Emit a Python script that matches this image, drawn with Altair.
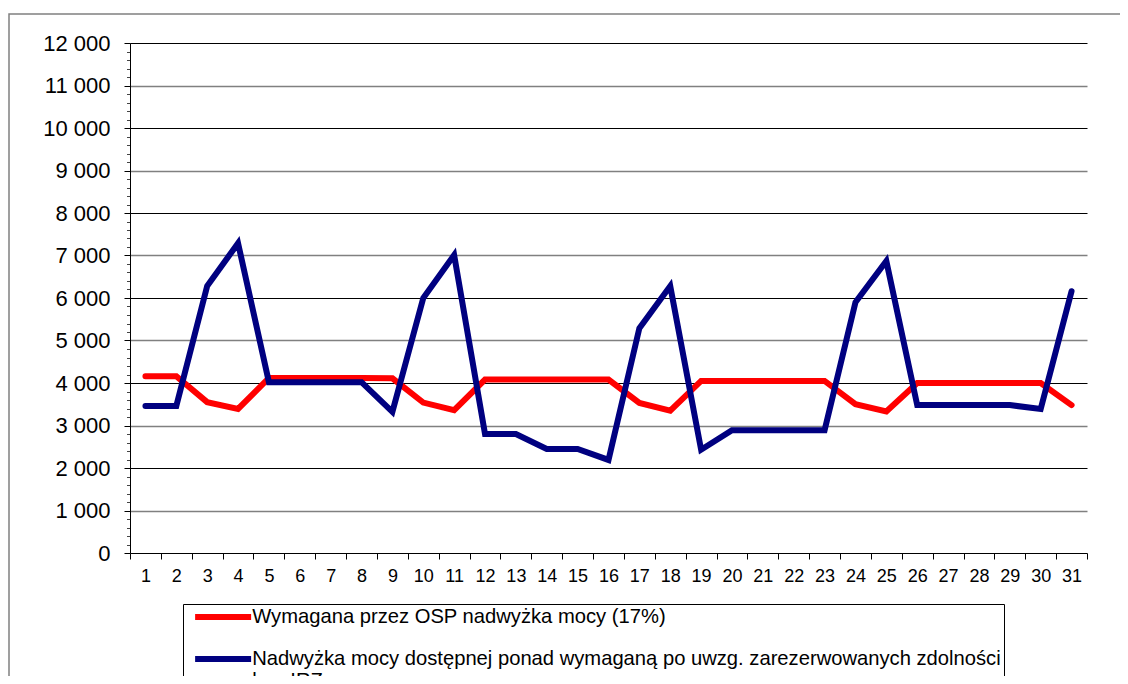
import json
import altair as alt
import pandas as pd

days = list(range(1, 32))
required = [4160, 4160, 3550, 3390, 4120, 4120, 4120, 4120, 4110, 3540, 3360,
            4080, 4080, 4080, 4080, 4080, 3530, 3350, 4050, 4050, 4050, 4050,
            4050, 3500, 3330, 4000, 4000, 4000, 4000, 4000, 3480]
surplus = [3460, 3460, 6280, 7290, 4020, 4020, 4020, 4020, 3320, 6000, 7010,
           2800, 2800, 2450, 2450, 2190, 5290, 6280, 2430, 2890, 2890, 2890,
           2890, 5900, 6870, 3480, 3480, 3480, 3480, 3390, 6160]

s1 = "Wymagana przez OSP nadwyżka mocy (17%)"
s2_lines = ["Nadwyżka mocy dostępnej ponad wymaganą po uwzg. zarezerwowanych zdolności", "bez IRZ"]
s2 = " ".join(s2_lines)
series_names = [s1, s2]
series_colors = ["#FF0000", "#000080"]

major_ticks = list(range(0, 12001, 1000))
even_grid = list(range(2000, 12001, 2000))
odd_grid = list(range(1000, 12001, 2000))
minor_ticks = list(range(0, 12001, 200))

rows = []
for d, a, b in zip(days, required, surplus):
    rows.append({"day": d, "value": a, "series": s1})
    rows.append({"day": d, "value": b, "series": s2})
df = pd.DataFrame(rows)

FONT = "Liberation Sans"

xenc = alt.X("day:O", bandPosition=0.5,
             scale=alt.Scale(type="band", paddingInner=0, paddingOuter=0),
             axis=alt.Axis(title=None, labelAngle=0, labelFont=FONT, labelFontSize=18,
                           labelColor="black", tickBand="extent", tickSize=6,
                           tickColor="black", domainColor="black", labelPadding=8,
                           grid=False))

yscale = alt.Scale(domain=[0, 12000], nice=False)

label_expr = "datum.label == " + json.dumps(s2) + " ? " + json.dumps(s2_lines) + " : datum.label"


def helper_layer(axis):
    return alt.Chart(df).mark_line(opacity=0).encode(
        x=xenc,
        y=alt.Y("value:Q", scale=yscale, axis=axis),
        detail="series:N",
    )


grid_even = helper_layer(alt.Axis(title=None, values=even_grid, labels=False, ticks=False,
                                  domain=False, grid=True, gridColor="#000000", gridWidth=1,
                                  orient="left"))
grid_odd = helper_layer(alt.Axis(title=None, values=odd_grid, labels=False, ticks=False,
                                 domain=False, grid=True, gridColor="#808080", gridWidth=1.5,
                                 orient="left"))
minor = helper_layer(alt.Axis(title=None, values=minor_ticks, labels=False, grid=False,
                              domain=False, tickSize=3.5, tickColor="#444444", orient="left"))

lines = alt.Chart(df).mark_line(strokeWidth=6, strokeCap="round").encode(
    x=xenc,
    y=alt.Y("value:Q", scale=yscale,
            axis=alt.Axis(title=None, values=major_ticks, labelFont=FONT, labelFontSize=22,
                          labelColor="black", labelExpr="replace(format(datum.value, ',d'), ',', ' ')",
                          tickSize=6, tickColor="black", domainColor="black", labelPadding=14,
                          grid=False, orient="left")),
    color=alt.Color("series:N",
                    scale=alt.Scale(domain=series_names, range=series_colors),
                    legend=alt.Legend(orient="none", legendX=53, legendY=561, title=None,
                                      strokeColor="black", fillColor="white", padding=3,
                                      symbolType="M-0.14,0H7.86", symbolStrokeWidth=6, symbolSize=196,
                                      labelFont=FONT, labelFontSize=20.2, labelColor="black",
                                      labelLimit=1200, labelOffset=46, rowPadding=17,
                                      labelExpr=label_expr, direction="vertical")),
    order=alt.Order("day:Q"),
)

frame = alt.Chart(pd.DataFrame({"k": [0]})).mark_rect(
    fill="transparent", stroke="#808080", strokeWidth=1.5
).encode(x=alt.value(-121), x2=alt.value(1300), y=alt.value(-29), y2=alt.value(900))

chart = alt.layer(frame, grid_odd, grid_even, minor, lines).resolve_axis(y="independent").properties(
    width=957, height=510,
    autosize="none",
    padding={"left": 122, "top": 35, "right": 33, "bottom": 123},
).configure_view(strokeWidth=0)

chart.save("out.html", embed_options={"renderer": "svg", "actions": False})
